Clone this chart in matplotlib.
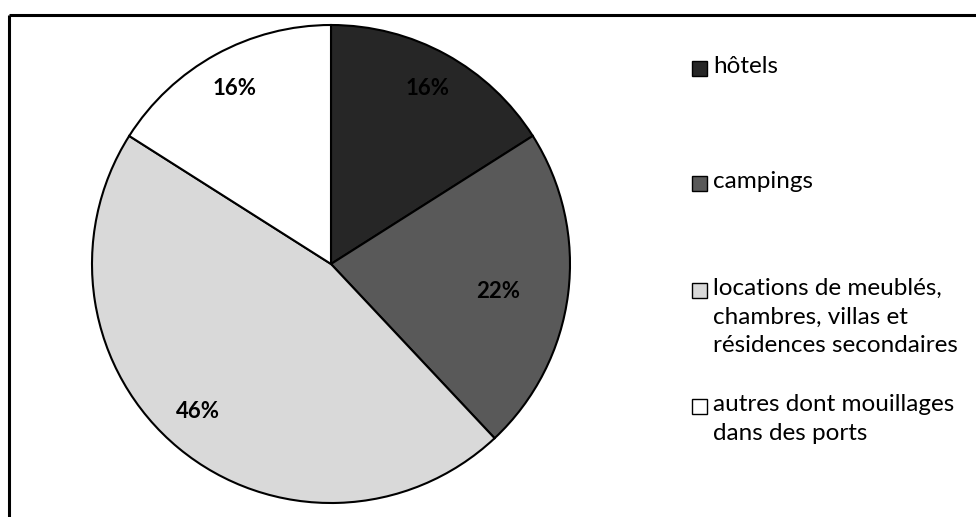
import numpy as np
import matplotlib.pyplot as plt
from matplotlib.patches import Rectangle

plt.rcParams['font.family'] = ['Lato', 'DejaVu Sans']

categories = ["hôtels", "campings",
              "locations de meublés,\nchambres, villas et\nrésidences secondaires",
              "autres dont mouillages\ndans des ports"]
shares = [16, 22, 46, 16]
colors = ['#262626', '#595959', '#d9d9d9', '#ffffff']

# label placement (radius fraction, angle shift in degrees), like Excel best fit
label_r = [0.84, 0.71, 0.83, 0.84]
label_shift = [0, -2, -2.5, 0]

W, H = 976, 517
fig = plt.figure(figsize=(W / 100, H / 100), dpi=100)
ax = fig.add_axes([0, 0, 1, 1])

cx, cy, R = 331, H - 264, 239
wedges, texts, autotexts = ax.pie(shares, colors=colors, startangle=90, counterclock=False,
                                  center=(cx, cy), radius=R, autopct='%d%%',
                                  wedgeprops=dict(edgecolor='black', linewidth=1.5),
                                  textprops=dict(fontsize=16, fontweight='bold', color='black'),
                                  frame=True)
ax.set_xlim(0, W)
ax.set_ylim(0, H)
ax.axis('off')

for w, t, rf, sh in zip(wedges, autotexts, label_r, label_shift):
    mid = np.deg2rad((w.theta1 + w.theta2) / 2 + sh)
    t.set_position((cx + rf * R * np.cos(mid), cy + rf * R * np.sin(mid)))
    t.set_ha('center')
    t.set_va('center')

# outer frame (only top and left visible in the crop)
ax.plot([9, W], [H - 15, H - 15], color='black', lw=2.2, solid_capstyle='butt')
ax.plot([9, 9], [0, H - 15], color='black', lw=2.2, solid_capstyle='butt')

# legend, drawn entry by entry
leg_y = [68, 183, 290, 406]
for lab, col, y in zip(categories, colors, leg_y):
    ax.add_patch(Rectangle((692, H - y - 8), 15, 15, facecolor=col,
                           edgecolor='black', lw=1.0))
    ax.text(713, H - y + 12, lab, fontsize=17.5, va='top', ha='left',
            linespacing=1.45, color='black')

fig.savefig('out.png', dpi=100)
